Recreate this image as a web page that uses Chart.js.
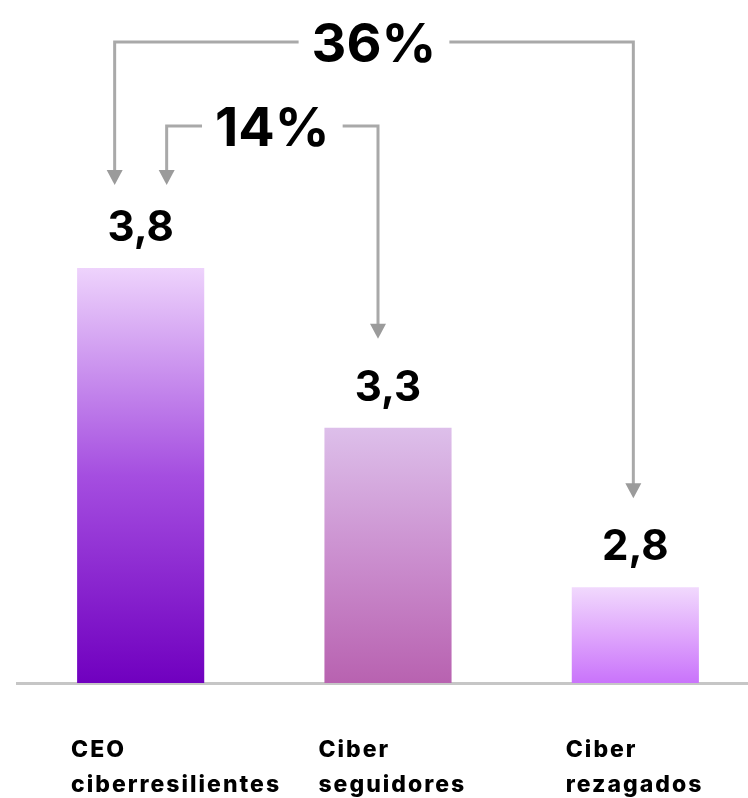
<!DOCTYPE html>
<html><head><meta charset="utf-8">
<script src="https://cdn.jsdelivr.net/npm/chart.js@4"></script>
<style>html,body{margin:0;padding:0;background:#fff;overflow:hidden;width:748px;height:798px;}#wrap{width:759px;height:798px;position:relative;}</style>
</head><body><div id="wrap"><canvas id="c"></canvas></div>
<script>
const categories = [['CEO', 'ciberresilientes'], ['Ciber', 'seguidores'], ['Ciber', 'rezagados']];
const values = [3.8, 3.3, 2.8];
const valueLabels = ['3,8', '3,3', '2,8'];
const compareLabels = ['36%', '14%'];
const compareFrom = [0, 0];
const compareTo = [2, 1];
const gradTop = ['#eed3fc', '#ddbfea', '#f1d9fd'];
const gradMid = ['#a54ee0', '#cb8fcf', '#dfa6fc'];
const gradBottom = ['#7000bf', '#b862b0', '#c973fb'];

const FONT = 'Inter, "Noto Sans", sans-serif';

function barGradient(c) {
  const chart = c.chart;
  const area = chart.chartArea;
  if (!area || c.dataIndex === undefined) return gradBottom[0];
  const yTop = chart.scales.y.getPixelForValue(values[c.dataIndex]);
  const g = chart.ctx.createLinearGradient(0, yTop, 0, area.bottom);
  g.addColorStop(0, gradTop[c.dataIndex]);
  g.addColorStop(0.5, gradMid[c.dataIndex]);
  g.addColorStop(1, gradBottom[c.dataIndex]);
  return g;
}

const annot = {
  id: 'annot',
  afterDatasetsDraw(chart) {
    const ctx = chart.ctx, xs = chart.scales.x, ys = chart.scales.y;
    const top = chart.chartArea.top, bottom = chart.chartArea.bottom;
    const meta = chart.getDatasetMeta(0);
    ctx.save();
    ctx.fillStyle = '#000';
    ctx.textAlign = 'left';
    ctx.textBaseline = 'alphabetic';
    ctx.font = '800 23px ' + FONT;
    ctx.letterSpacing = '2px';
    categories.forEach((lines, i) => {
      const bw = meta.data[i].width;
      const lx = xs.getPixelForValue(i) - bw / 2 - 6;
      lines.forEach((t, j) => ctx.fillText(t, lx, bottom + 74 + j * 35));
    });
    ctx.letterSpacing = '0px';
    ctx.textAlign = 'center';
    ctx.font = '700 42px ' + FONT;
    values.forEach((v, i) => {
      ctx.fillText(valueLabels[i], xs.getPixelForValue(i), ys.getPixelForValue(v) - 27);
    });
    const levelY = [top + 42, top + 126];
    const fromDx = [-26, 26];
    const toDx = [-2, -10];
    compareLabels.forEach((lab, k) => {
      const x1 = xs.getPixelForValue(compareFrom[k]) + fromDx[k];
      const x2 = xs.getPixelForValue(compareTo[k]) + toDx[k];
      const y0 = levelY[k];
      const tip1 = ys.getPixelForValue(values[compareFrom[k]]) - 83;
      const tip2 = ys.getPixelForValue(values[compareTo[k]]) - 89;
      ctx.font = '700 54px ' + FONT;
      const mid = (x1 + x2) / 2;
      const w = ctx.measureText(lab).width;
      const gap = 13;
      ctx.strokeStyle = '#a9a9a9';
      ctx.lineWidth = 3;
      ctx.lineJoin = 'miter';
      ctx.beginPath();
      ctx.moveTo(mid - w / 2 - gap, y0);
      ctx.lineTo(x1, y0);
      ctx.lineTo(x1, tip1 - 13);
      ctx.stroke();
      ctx.beginPath();
      ctx.moveTo(mid + w / 2 + gap, y0);
      ctx.lineTo(x2, y0);
      ctx.lineTo(x2, tip2 - 13);
      ctx.stroke();
      ctx.fillStyle = '#9b9b9b';
      [[x1, tip1], [x2, tip2]].forEach(([ax, ay]) => {
        ctx.beginPath();
        ctx.moveTo(ax - 8, ay - 15);
        ctx.lineTo(ax + 8, ay - 15);
        ctx.lineTo(ax, ay);
        ctx.closePath();
        ctx.fill();
      });
      ctx.fillStyle = '#000';
      ctx.fillText(lab, mid, y0 + 20);
    });
    ctx.restore();
  }
};

new Chart(document.getElementById('c'), {
  type: 'bar',
  data: {
    labels: categories,
    datasets: [{
      data: values,
      backgroundColor: barGradient,
      borderWidth: 0,
      barPercentage: 0.514,
      categoryPercentage: 1
    }]
  },
  options: {
    responsive: true,
    maintainAspectRatio: false,
    animation: false,
    layout: { padding: { left: 17, right: 0, top: 0, bottom: 0 } },
    plugins: { legend: { display: false }, tooltip: { enabled: false } },
    scales: {
      x: {
        grid: { display: false, drawTicks: false },
        border: { display: true, color: '#c6c6c6', width: 3 },
        afterFit(scale) { scale.height = 115; },
        ticks: { display: false }
      },
      y: { display: false, min: 2.5, max: 4.64 }
    }
  },
  plugins: [annot]
});
</script>
</body></html>
